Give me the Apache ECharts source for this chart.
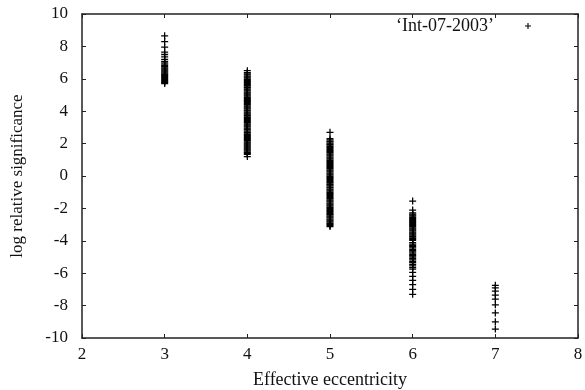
<!DOCTYPE html>
<html><head><meta charset="utf-8">
<script src="https://cdn.jsdelivr.net/npm/echarts@6/dist/echarts.min.js"></script>
<style>html,body{margin:0;padding:0;background:#fff}#c{width:585px;height:390px}</style>
</head><body><div id="c"></div>
<script>
var seriesName = '\u2018Int-07-2003\u2019';
var xTitle = 'Effective eccentricity';
var yTitle = 'log relative significance';
var xValues = [3, 4, 5, 6, 7];
var y3 = [8.65, 8.3, 7.95, 7.65, 7.5, 7.35, 7.2, 7.08, 6.98, 6.9, 6.82, 6.75, 6.68, 6.61, 6.55, 6.49, 6.43, 6.37, 6.31, 6.25, 6.19, 6.13, 6.07, 6.01, 5.95, 5.89, 5.83, 5.77, 5.71];
var y4 = [6.5, 6.38, 6.31, 6.24, 6.17, 6.11, 6.04, 5.97, 5.91, 5.84, 5.78, 5.7, 5.64, 5.58, 5.5, 5.45, 5.38, 5.31, 5.26, 5.18, 5.12, 5.05, 4.99, 4.93, 4.86, 4.79, 4.72, 4.66, 4.6, 4.54, 4.47, 4.4, 4.33, 4.27, 4.21, 4.14, 4.07, 4.02, 3.94, 3.88, 3.82, 3.75, 3.69, 3.62, 3.55, 3.49, 3.42, 3.35, 3.3, 3.22, 3.16, 3.1, 3.03, 2.96, 2.9, 2.84, 2.77, 2.7, 2.64, 2.57, 2.51, 2.44, 2.37, 2.31, 2.25, 2.18, 2.11, 2.05, 1.98, 1.92, 1.86, 1.79, 1.72, 1.66, 1.6, 1.53, 1.46, 1.4, 1.34, 1.2];
var y5 = [2.7, 2.3, 2.23, 2.16, 2.1, 2.03, 1.96, 1.9, 1.83, 1.77, 1.7, 1.63, 1.57, 1.5, 1.44, 1.37, 1.3, 1.24, 1.17, 1.11, 1.04, 0.97, 0.91, 0.84, 0.78, 0.71, 0.64, 0.58, 0.51, 0.45, 0.38, 0.31, 0.25, 0.18, 0.12, 0.05, -0.02, -0.08, -0.15, -0.21, -0.28, -0.35, -0.41, -0.48, -0.54, -0.61, -0.68, -0.74, -0.81, -0.87, -0.94, -1.01, -1.07, -1.14, -1.2, -1.27, -1.34, -1.4, -1.47, -1.53, -1.6, -1.67, -1.73, -1.8, -1.86, -1.93, -2.0, -2.06, -2.13, -2.19, -2.26, -2.33, -2.39, -2.46, -2.52, -2.59, -2.66, -2.72, -2.79, -2.85, -2.92, -2.99, -3.05, -3.12];
var y6 = [-1.55, -2.1, -2.28, -2.35, -2.42, -2.48, -2.55, -2.61, -2.68, -2.74, -2.81, -2.87, -2.94, -3.0, -3.07, -3.13, -3.2, -3.26, -3.33, -3.39, -3.46, -3.52, -3.59, -3.65, -3.72, -3.78, -3.85, -3.91, -3.98, -4.12, -4.2, -4.28, -4.36, -4.44, -4.53, -4.6, -4.68, -4.76, -4.85, -4.92, -5.0, -5.1, -5.18, -5.27, -5.35, -5.45, -5.55, -5.65, -5.75, -5.95, -6.2, -6.45, -6.7, -7.0, -7.3];
var y7 = [-6.75, -6.9, -7.1, -7.35, -7.6, -7.95, -8.45, -9.0, -9.45];
var yGroups = [y3, y4, y5, y6, y7];

var points = [];
yGroups.forEach(function (g, i) {
  g.forEach(function (v) { points.push([xValues[i], v]); });
});

var plus = 'path://M4.1,0H5.9V4.1H10V5.9H5.9V10H4.1V5.9H0V4.1H4.1Z';
var font = 'Liberation Serif';
var axisLine = {show: true, onZero: false, lineStyle: {color: '#222', width: 1.5}};
var tick = {show: true, inside: true, length: 4, lineStyle: {color: '#222', width: 1}};

var chart = echarts.init(document.getElementById('c'), null, {renderer: 'canvas'});
chart.setOption({
  animation: false,
  backgroundColor: '#fff',
  grid: {left: 82, right: 7, top: 14, bottom: 52, containLabel: false, outerBoundsMode: 'none'},
  legend: {
    data: [seriesName], align: 'right', right: 49, top: 12,
    itemWidth: 6, itemHeight: 6, icon: plus,
    textStyle: {fontFamily: font, fontSize: 18, color: '#111', padding: [0, 26, 0, 0]}
  },
  xAxis: [{
    type: 'value', min: 2, max: 8, interval: 1, position: 'bottom',
    name: xTitle, nameLocation: 'middle', nameGap: 33,
    nameTextStyle: {fontFamily: font, fontSize: 18, color: '#111'},
    axisLine: axisLine, axisTick: tick, splitLine: {show: false},
    axisLabel: {fontFamily: font, fontSize: 17, color: '#111', margin: 8}
  }, {
    type: 'value', min: 2, max: 8, interval: 1, position: 'top',
    axisLine: axisLine, axisTick: tick, splitLine: {show: false}, axisLabel: {show: false}
  }],
  yAxis: [{
    type: 'value', min: -10, max: 10, interval: 2, position: 'left',
    name: yTitle, nameLocation: 'middle', nameGap: 56,
    nameTextStyle: {fontFamily: font, fontSize: 17, color: '#111'},
    axisLine: axisLine, axisTick: tick, splitLine: {show: false},
    axisLabel: {fontFamily: font, fontSize: 17, color: '#111', margin: 14}
  }, {
    type: 'value', min: -10, max: 10, interval: 2, position: 'right',
    axisLine: axisLine, axisTick: tick, splitLine: {show: false}, axisLabel: {show: false}
  }],
  series: [{
    name: seriesName, type: 'scatter', data: points,
    symbol: plus, symbolSize: 7,
    itemStyle: {color: '#000', opacity: 1}
  }]
});
</script></body></html>
